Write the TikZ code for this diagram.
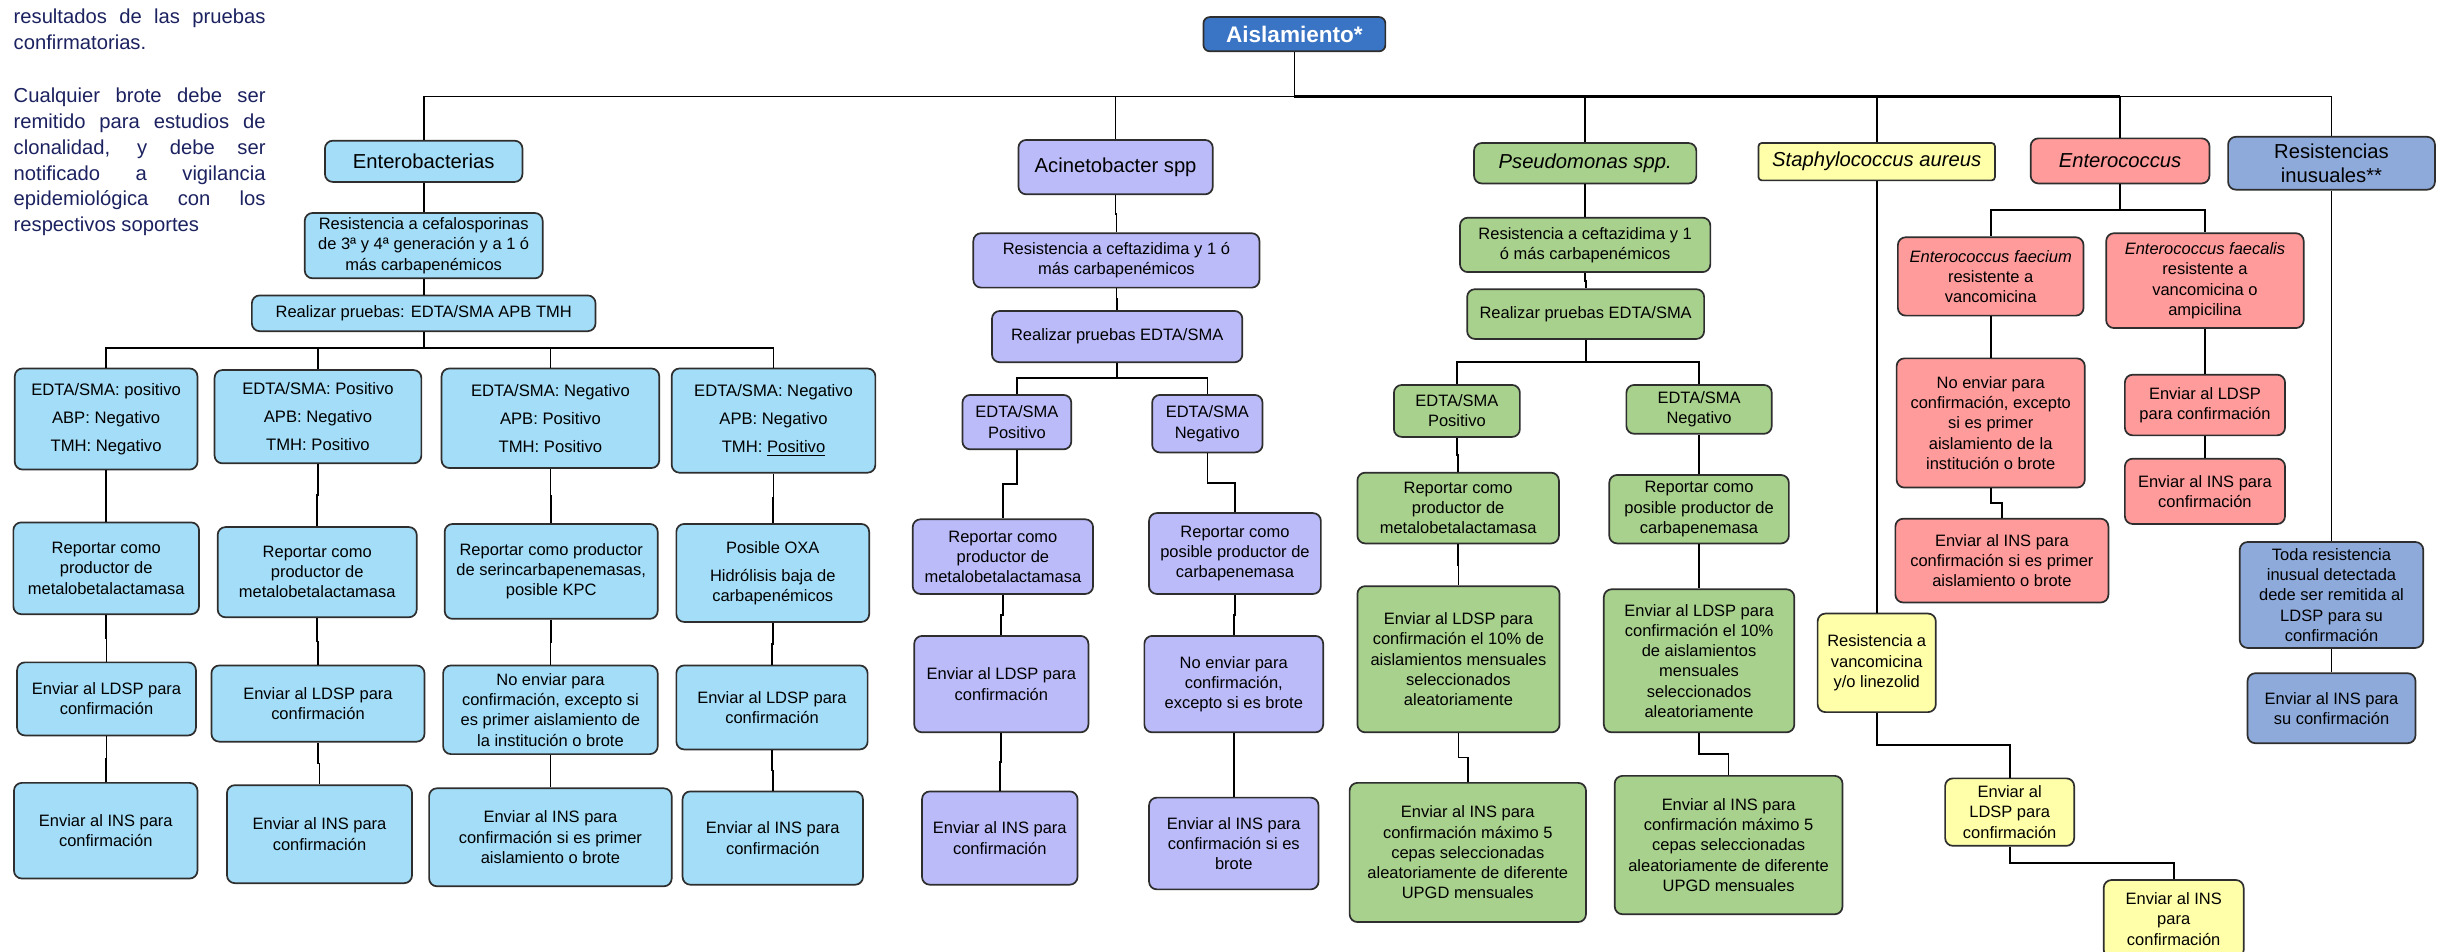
\documentclass[tikz,border=0pt]{standalone}
\usepackage{fontspec}
\setmainfont{Liberation Sans}
\usetikzlibrary{calc}
\definecolor{entblue}{HTML}{A3DDF8}
\definecolor{acpurple}{HTML}{BBBBFA}
\definecolor{psgreen}{HTML}{A9D18E}
\definecolor{styellow}{HTML}{FFFFAA}
\definecolor{enpink}{HTML}{FF9B9B}
\definecolor{riblue}{HTML}{8EAADB}
\definecolor{aisblue}{HTML}{3A74C4}
\definecolor{boxline}{HTML}{2E2E2E}
\definecolor{notecol}{HTML}{1C2260}
\tikzset{
  box/.style={draw=boxline, line width=1.1pt, rounded corners=5pt, align=center, inner sep=0pt,
    font=\fontsize{10.6}{13}\selectfont},
  bl/.style={box, fill=entblue},
  pu/.style={box, fill=acpurple},
  gr/.style={box, fill=psgreen},
  ye/.style={box, fill=styellow},
  pk/.style={box, fill=enpink},
  rb/.style={box, fill=riblue},
  aisbox/.style={box, fill=aisblue, text=white, rounded corners=4pt, font=\fontsize{14.5}{16}\selectfont\bfseries},
  lvl/.style={font=\fontsize{13}{15}\selectfont},
  edta/.style={font=\fontsize{10.7}{18}\selectfont},
  conn/.style={line width=1.1pt, draw=black},
  note/.style={anchor=base west, inner sep=0pt, text=notecol},
}
\newcommand\bx[7]{%
  \pgfmathsetmacro\bxcx{(#2+#4)/2}%
  \pgfmathsetmacro\bxcy{(#3+#5)/2}%
  \pgfmathsetmacro\bxw{#4-#2}%
  \pgfmathsetmacro\bxh{#5-#3}%
  \node[#6, minimum width=\bxw pt, minimum height=\bxh pt] (#1) at (\bxcx,\bxcy) {#7};}
\newcommand\connM[2]{\draw[conn] (#1.south) |- ($(#1.south)!0.5!(#2.north)$) -| (#2.north);}
\newcommand\connY[3]{\path (0,#3) coordinate (cyy); \draw[conn] (#1.south) -- (#1.south |- cyy) -| (#2.north);}
\newcommand\notetext[1]{\parbox[t]{162pt}{\fontsize{13}{16.6}\selectfont\tolerance=10000\hyphenpenalty=10000 #1}}
\begin{document}
\begin{tikzpicture}[x=1pt,y=-1pt]
\fill[white] (0,0) rectangle (1568,612);
\useasboundingbox (0,0) rectangle (1568,612);

% notes
\node[note] (note1) at (8.6,15) {\notetext{resultados de las pruebas\linebreak confirmatorias.}};
\node[note] (note2) at (8.6,66) {\notetext{Cualquier brote debe ser\linebreak remitido para estudios de\linebreak clonalidad, y debe ser\linebreak notificado a vigilancia\linebreak epidemiológica con los\linebreak respectivos soportes}};

% root
\bx{ais}{774}{11}{891}{33}{aisbox}{Aislamiento*}

% level 1
\bx{ent}{209}{90.5}{336}{117}{bl,lvl}{Enterobacterias}
\bx{acin}{655}{90}{780}{125}{pu,lvl}{Acinetobacter spp}
\bx{pseu}{948}{92}{1091}{118}{gr,lvl}{\textit{Pseudomonas spp.}}
\bx{staph}{1131}{92}{1283}{116}{ye,lvl,rounded corners=2pt}{\textit{Staphylococcus aureus}}
\bx{entc}{1306}{89}{1421}{118}{pk,lvl}{\textit{Enterococcus}}
\bx{rinus}{1433}{88}{1566}{122}{rb,lvl}{Resistencias\\inusuales**}

% Enterobacterias
\bx{entres}{196}{137}{349}{179}{bl}{Resistencia a cefalosporinas\\de 3ª y 4ª generación y a 1 ó\\más carbapenémicos}
\bx{entreal}{162}{190}{383}{213}{bl}{Realizar pruebas: EDTA/SMA APB TMH}
\bx{A1}{9.5}{237}{127}{302}{bl,edta}{EDTA/SMA: positivo\\ABP: Negativo\\TMH: Negativo}
\bx{A2}{138}{238}{271}{298}{bl,edta}{EDTA/SMA: Positivo\\APB: Negativo\\TMH: Positivo}
\bx{A3}{284}{237}{424}{301}{bl,edta}{EDTA/SMA: Negativo\\APB: Positivo\\TMH: Positivo}
\bx{A4}{432}{237}{563}{304}{bl,edta}{EDTA/SMA: Negativo\\APB: Negativo\\TMH: \underline{Positivo}}
\bx{R1}{8.6}{336}{128}{395}{bl}{Reportar como\\productor de\\metalobetalactamasa}
\bx{R2}{140}{339}{268}{397}{bl}{Reportar como\\productor de\\metalobetalactamasa}
\bx{R3}{286}{337}{423}{398}{bl}{Reportar como productor\\de serincarbapenemasas,\\posible KPC}
\bx{R4}{435}{337}{559}{400}{bl}{Posible OXA\\[5pt]Hidrólisis baja de\\carbapenémicos}
\bx{L1}{11}{426}{126}{473}{bl}{Enviar al LDSP para\\confirmación}
\bx{L2}{136}{428}{273}{477}{bl}{Enviar al LDSP para\\confirmación}
\bx{L3}{285}{428}{423}{485}{bl}{No enviar para\\confirmación, excepto si\\es primer aislamiento de\\la institución o brote}
\bx{L4}{435}{428}{558}{482}{bl}{Enviar al LDSP para\\confirmación}
\bx{I1}{9}{503.5}{127}{565}{bl}{Enviar al INS para\\confirmación}
\bx{I2}{146}{505}{265}{568}{bl}{Enviar al INS para\\confirmación}
\bx{I3}{276}{507}{432}{570}{bl}{Enviar al INS para\\confirmación si es primer\\aislamiento o brote}
\bx{I4}{439}{509}{555}{569}{bl}{Enviar al INS para\\confirmación}

% Acinetobacter
\bx{acres}{626}{150}{810}{185}{pu}{Resistencia a ceftazidima y 1 ó\\más carbapenémicos}
\bx{acreal}{638}{200}{799}{233}{pu}{Realizar pruebas EDTA/SMA}
\bx{acP}{619}{254}{689}{289}{pu}{EDTA/SMA\\Positivo}
\bx{acN}{741}{254}{812}{291}{pu}{EDTA/SMA\\Negativo}
\bx{acR1}{587}{334}{703}{382}{pu}{Reportar como\\productor de\\metalobetalactamasa}
\bx{acR2}{739}{330}{849.5}{382}{pu}{Reportar como\\posible productor de\\carbapenemasa}
\bx{acL1}{588}{409}{700}{471}{pu}{Enviar al LDSP para\\confirmación}
\bx{acL2}{736}{409}{851}{471}{pu}{No enviar para\\confirmación,\\excepto si es brote}
\bx{acI1}{593}{509}{693}{569}{pu}{Enviar al INS para\\confirmación}
\bx{acI2}{739}{513}{848}{572}{pu}{Enviar al INS para\\confirmación si es\\brote}

% Pseudomonas
\bx{psres}{939}{140}{1100}{175}{gr}{Resistencia a ceftazidima y 1\\ó más carbapenémicos}
\bx{psreal}{943.6}{186}{1096}{218}{gr}{Realizar pruebas EDTA/SMA}
\bx{psP}{896.5}{247.6}{977.5}{281}{gr}{EDTA/SMA\\Positivo}
\bx{psN}{1046}{247.6}{1139.5}{279}{gr}{EDTA/SMA\\Negativo}
\bx{psR1}{873}{304}{1002.6}{349.5}{gr}{Reportar como\\productor de\\metalobetalactamasa}
\bx{psR2}{1035}{305.5}{1150.5}{349.5}{gr}{Reportar como\\posible productor de\\carbapenemasa}
\bx{psL1}{873}{377}{1003}{471}{gr}{Enviar al LDSP para\\confirmación el 10\% de\\aislamientos mensuales\\seleccionados\\aleatoriamente}
\bx{psL2}{1031.5}{379}{1154}{471}{gr}{Enviar al LDSP para\\confirmación el 10\%\\de aislamientos\\mensuales\\seleccionados\\aleatoriamente}
\bx{psI1}{868}{503.5}{1020}{593}{gr}{Enviar al INS para\\confirmación máximo 5\\cepas seleccionadas\\aleatoriamente de diferente\\UPGD mensuales}
\bx{psI2}{1038.5}{499}{1185}{588}{gr}{Enviar al INS para\\confirmación máximo 5\\cepas seleccionadas\\aleatoriamente de diferente\\UPGD mensuales}

% Staphylococcus
\bx{stV}{1169}{394.6}{1245}{458}{ye}{Resistencia a\\vancomicina\\y/o linezolid}
\bx{stL}{1251}{500.6}{1334}{544}{ye}{Enviar al\\LDSP para\\confirmación}
\bx{stI}{1353}{566}{1443}{616}{ye}{Enviar al INS\\para\\confirmación}

% Enterococcus
\bx{efm}{1220.6}{152.6}{1340}{203}{pk}{\textit{Enterococcus faecium}\\resistente a\\vancomicina}
\bx{efc}{1354.6}{150}{1481.6}{211}{pk}{\textit{Enterococcus faecalis}\\resistente a\\vancomicina o\\ampicilina}
\bx{enNo}{1219.8}{230.5}{1340.8}{313.6}{pk}{No enviar para\\confirmación, excepto\\si es primer\\aislamiento de la\\institución o brote}
\bx{enI1}{1219}{333.6}{1356}{387.5}{pk}{Enviar al INS para\\confirmación si es primer\\aislamiento o brote}
\bx{enL}{1366.6}{241}{1469.6}{280}{pk}{Enviar al LDSP\\para confirmación}
\bx{enI2}{1366.6}{295}{1469.6}{337}{pk}{Enviar al INS para\\confirmación}

% Resistencias inusuales
\bx{riT}{1440.5}{348.6}{1558.5}{416.7}{rb}{Toda resistencia\\inusual detectada\\dede ser remitida al\\LDSP para su\\confirmación}
\bx{riI}{1445.5}{433}{1553.5}{478}{rb}{Enviar al INS para\\su confirmación}

% ---- connectors ----
\coordinate (busy) at (0,62);
\draw[conn] (ais.south) -- (ais.south |- busy);
\draw[conn] (ent.north) -- (ent.north |- busy) -- (rinus.north |- busy) -- (rinus.north);
\foreach \n in {acin,pseu,staph,entc} {\draw[conn] (\n.north) -- (\n.north |- busy);}
\draw[line width=2.2pt] (ais.south |- busy) -- (entc.north |- busy);

\connM{ent}{entres}
\connM{entres}{entreal}
\foreach \n in {A1,A2,A3,A4} {\connY{entreal}{\n}{224}}
\connM{A1}{R1}\connM{A2}{R2}\connM{A3}{R3}\connM{A4}{R4}
\connM{R1}{L1}\connM{R2}{L2}\connM{R3}{L3}\connM{R4}{L4}
\connM{L1}{I1}\connM{L2}{I2}\connM{L3}{I3}\connM{L4}{I4}

\connM{acin}{acres}
\connM{acres}{acreal}
\connY{acreal}{acP}{243}
\connY{acreal}{acN}{243}
\connM{acP}{acR1}\connM{acR1}{acL1}\connM{acL1}{acI1}
\connM{acN}{acR2}\connM{acR2}{acL2}\connM{acL2}{acI2}

\connM{pseu}{psres}
\connM{psres}{psreal}
\connY{psreal}{psP}{233}
\connY{psreal}{psN}{233}
\connM{psP}{psR1}\connM{psR1}{psL1}\connM{psL1}{psI1}
\connM{psN}{psR2}\connM{psR2}{psL2}\connM{psL2}{psI2}

\connM{staph}{stV}
\connM{stV}{stL}
\connM{stL}{stI}

\connY{entc}{efm}{135}
\connY{entc}{efc}{135}
\connM{efm}{enNo}\connM{enNo}{enI1}
\connM{efc}{enL}\connM{enL}{enI2}

\connM{rinus}{riT}
\connM{riT}{riI}
\end{tikzpicture}
\end{document}
